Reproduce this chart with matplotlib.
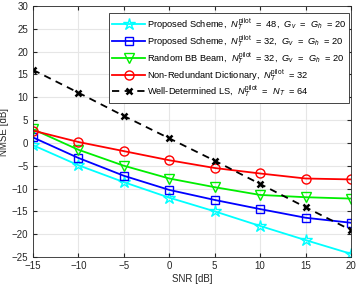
import matplotlib
matplotlib.use('Agg')
import matplotlib.pyplot as plt

snr = [-15, -10, -5, 0, 5, 10, 15, 20]

# NMSE [dB]
proposed_48 = [-0.5, -4.9, -8.6, -12.0, -15.0, -18.2, -21.3, -24.3]
proposed_32 = [1.2, -3.3, -7.2, -10.3, -12.5, -14.5, -16.4, -17.5]
random_bb = [3.0, -1.5, -5.0, -7.8, -9.7, -11.4, -11.9, -12.2]
non_redundant = [2.7, 0.2, -1.8, -3.8, -5.5, -6.7, -7.8, -8.0]
well_determined = [16.0, 11.0, 5.9, 1.0, -3.9, -9.0, -14.1, -19.1]

labels = [
    r'Proposed Scheme,  $N_T^{\mathrm{pilot}}$  =  48,  $G_v$  =  $G_h$  = 20',
    r'Proposed Scheme,  $N_T^{\mathrm{pilot}}$  = 32,  $G_v$  =  $G_h$  = 20',
    r'Random BB Beam,  $N_T^{\mathrm{pilot}}$  = 32,  $G_v$  =  $G_h$  = 20',
    r'Non-Redundant Dictionary,  $N_T^{\mathrm{pilot}}$  = 32',
    r'Well-Determined LS,  $N_T^{\mathrm{pilot}}$  =  $N_T$  = 64',
]


def main():
    plt.rcParams['font.family'] = ['Liberation Sans', 'DejaVu Sans']
    plt.rcParams['mathtext.fontset'] = 'custom'
    plt.rcParams['mathtext.it'] = 'Liberation Sans:italic'
    plt.rcParams['mathtext.rm'] = 'Liberation Sans'

    fig = plt.figure(figsize=(3.6, 2.89), dpi=100)
    ax = fig.add_axes([33 / 360, 1 - 257 / 289, 318 / 360, 251 / 289])

    lw = 1.3
    ax.plot(snr, proposed_48, color='cyan', marker='*', markersize=9,
            markerfacecolor='none', lw=lw, label=labels[0])
    ax.plot(snr, proposed_32, color='blue', marker='s', markersize=5.5,
            markerfacecolor='none', lw=lw, label=labels[1])
    ax.plot(snr, random_bb, color='#00ee00', marker='v', markersize=7,
            markerfacecolor='none', lw=lw, label=labels[2])
    ax.plot(snr, non_redundant, color='red', marker='o', markersize=6.5,
            markerfacecolor='none', lw=lw, label=labels[3])
    ax.plot(snr, well_determined, color='black', marker='x', markersize=5,
            markeredgewidth=1.8, ls=(0, (4, 3)), lw=lw, label=labels[4])

    ax.set_xlim(-15, 20)
    ax.set_ylim(-25, 30)
    ax.set_xticks(range(-15, 21, 5))
    ax.set_yticks(range(-25, 31, 5))
    ax.grid(True, color='#e6e6e6', lw=0.8)
    ax.set_axisbelow(True)
    ax.tick_params(labelsize=7, colors='#262626', direction='in', length=3,
                   top=True, right=True)
    ax.tick_params(axis='x', pad=3)
    for s in ax.spines.values():
        s.set_color('#262626')
        s.set_linewidth(0.6)

    ax.set_xlabel('SNR [dB]', fontsize=7, color='#262626', labelpad=2)
    ax.set_ylabel('NMSE [dB]', fontsize=7, color='#262626', labelpad=2)

    leg = ax.legend(loc='upper right', fontsize=6.7, fancybox=False,
                    edgecolor='#262626', framealpha=1, borderpad=0.35,
                    labelspacing=0.1, handlelength=3.5, handletextpad=0.2,
                    borderaxespad=0, bbox_to_anchor=(0.995, 0.972))
    leg.get_frame().set_linewidth(0.6)

    fig.savefig('out.png', dpi=100)


if __name__ == '__main__':
    main()
